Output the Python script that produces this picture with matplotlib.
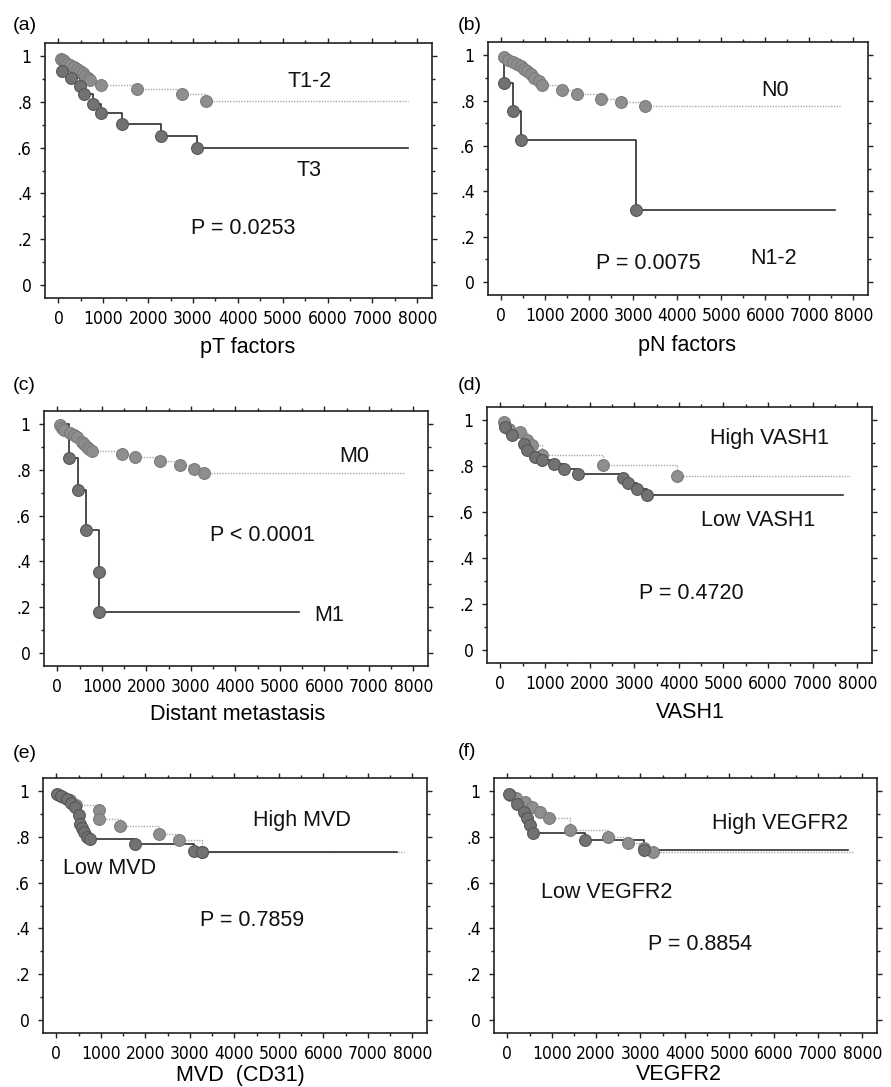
import numpy as np
import matplotlib
matplotlib.use('Agg')
import matplotlib.pyplot as plt
from matplotlib import font_manager
from matplotlib.font_manager import FontProperties
from matplotlib.ticker import MultipleLocator, FixedLocator

TXT = 'Liberation Sans'

# tick numbers in the reference use a narrow face; take one if the box has it
def narrow_font(size):
    fl = font_manager.fontManager.ttflist
    for f in fl:
        if f.name == 'Liberation Sans Narrow' and f.weight in (400, 'normal') and f.style == 'normal':
            return FontProperties(fname=f.fname, size=size)
    for fam in ['DejaVu Sans', 'Noto Sans', 'Roboto', 'Open Sans', 'Liberation Sans']:
        for f in fl:
            if f.name == fam and f.style == 'normal' and f.weight in (400, 'normal') \
                    and f.stretch in ('condensed', 'semi-condensed', 'extra-condensed', 'ultra-condensed'):
                return FontProperties(fname=f.fname, size=size)
    return FontProperties(family='Liberation Sans', size=size - 1)

# ---- data: (time, survival) at each marked event, and where the curve stops ----
# (a) pT factors
a_hi_t = [50, 100, 150, 200, 250, 350, 420, 480, 550, 600, 650, 700, 950, 1758, 2750, 3285]
a_hi_s = [.99, .985, .975, .968, .96, .952, .945, .935, .925, .915, .905, .895, .873, .859, .837, .805]
a_hi_end = 7790
a_lo_t = [82, 290, 476, 566, 775, 940, 1423, 2295, 3084]
a_lo_s = [.936, .905, .87, .834, .793, .75, .706, .652, .601]
a_lo_end = 7790

# (b) pN factors
b_hi_t = [68, 150, 261, 350, 446, 520, 597, 680, 748, 850, 937, 1390, 1730, 2258, 2712, 3256]
b_hi_s = [.99, .98, .97, .96, .953, .94, .93, .915, .90, .885, .867, .846, .827, .808, .793, .776]
b_hi_end = 7698
b_lo_t = [53, 261, 446, 3052]
b_lo_s = [.876, .754, .624, .316]
b_lo_end = 7585

# (c) distant metastasis
c_hi_t = [56, 100, 142, 292, 370, 442, 555, 610, 667, 720, 779, 1453, 1753, 2315, 2764, 3063, 3288]
c_hi_s = [.996, .985, .974, .96, .952, .945, .923, .912, .901, .89, .882, .872, .857, .84, .821, .806, .787]
c_hi_end = 7782
c_lo_t = [254, 455, 650, 943, 943]
c_lo_s = [.854, .712, .537, .355, .18]
c_lo_end = 5423

# (d) VASH1
d_hi_t = [74, 186, 447, 596, 708, 931, 2309, 3948]
d_hi_s = [.993, .964, .949, .913, .891, .85, .804, .757]
d_hi_end = 7843
d_lo_t = [112, 261, 521, 596, 782, 931, 1191, 1415, 1750, 2755, 2867, 3054, 3277]
d_lo_s = [.971, .935, .899, .87, .841, .826, .809, .79, .768, .747, .725, .703, .674]
d_lo_end = 7672

# (e) MVD (CD31)
e_hi_t = [52, 150, 315, 450, 951, 951, 1438, 2299, 2749, 3274]
e_hi_s = [.982, .975, .96, .939, .917, .88, .846, .814, .785, .734]
e_hi_end = 7805
e_lo_t = [15, 100, 240, 330, 427, 502, 539, 580, 614, 700, 764, 1775, 3085, 3274]
e_lo_s = [.987, .98, .968, .95, .931, .895, .858, .84, .822, .80, .792, .768, .738, .734]
e_lo_end = 7656

# (f) VEGFR2
f_hi_t = [67, 200, 404, 554, 742, 929, 1416, 2276, 2726, 3085, 3288]
f_hi_s = [.983, .97, .953, .931, .91, .881, .83, .80, .772, .75, .735]
f_hi_end = 7782
f_lo_t = [30, 218, 367, 442, 517, 569, 1753, 3085]
f_lo_s = [.99, .946, .91, .881, .852, .818, .786, .745]
f_lo_end = 7670

ytick_vals = [0, .2, .4, .6, .8, 1]
ytick_txt = ['0', '.2', '.4', '.6', '.8', '1']

# panel boxes in pixels (left, top, right, bottom) of the 891x1087 figure,
# then tag position and x-label position (pixels)
W, H = 891, 1087
panels = [
    ('(a)', (45, 43, 432, 298), (13, 25), (248, 347), a_hi_t, a_hi_s, a_hi_end, a_lo_t, a_lo_s, a_lo_end,
     'pT factors', [('T1-2', 5590, .89), ('T3', 5590, .50), ('P = 0.0253', 4130, .245)]),
    ('(b)', (488, 42, 868, 295), (458, 25), (687, 345), b_hi_t, b_hi_s, b_hi_end, b_lo_t, b_lo_s, b_lo_end,
     'pN factors', [('N0', 6225, .846), ('N1-2', 6190, .105), ('P = 0.0075', 3350, .083)]),
    ('(c)', (44, 411, 428, 666), (13, 386), (238, 714), c_hi_t, c_hi_s, c_hi_end, c_lo_t, c_lo_s, c_lo_end,
     'Distant metastasis', [('M0', 6670, .857), ('M1', 6100, .162), ('P < 0.0001', 4600, .515)]),
    ('(d)', (487, 407, 872, 663), (458, 385), (690, 712), d_hi_t, d_hi_s, d_hi_end, d_lo_t, d_lo_s, d_lo_end,
     'VASH1', [('High VASH1', 6030, .92), ('Low VASH1', 5770, .565), ('P = 0.4720', 4280, .246)]),
    ('(e)', (43, 778, 427, 1033), (13, 753), (240, 1075), e_hi_t, e_hi_s, e_hi_end, e_lo_t, e_lo_s, e_lo_end,
     'MVD  (CD31)', [('High MVD', 5520, .87), ('Low MVD', 1200, .661), ('P = 0.7859', 4400, .437)]),
    ('(f)', (494, 778, 877, 1033), (458, 752), (679, 1075), f_hi_t, f_hi_s, f_hi_end, f_lo_t, f_lo_s, f_lo_end,
     'VEGFR2', [('High VEGFR2', 6135, .859), ('Low VEGFR2', 2240, .556), ('P = 0.8854', 4340, .33)]),
]

tick_fp = narrow_font(12.5)

fig = plt.figure(figsize=(W / 100, H / 100), dpi=100)
fig.patch.set_facecolor('white')

for tag, box, tagpos, labpos, ht, hs, hend, lt, ls, lend, xlab, notes in panels:
    l, t, r, b = box
    ax = fig.add_axes([l / W, 1 - b / H, (r - l) / W, (b - t) / H])

    # light dotted curve + markers
    ax.step([0] + ht + [hend], [1] + hs + [hs[-1]], where='post',
            color='#a8a8a8', lw=1.0, ls=(0, (1, 1)), zorder=2)
    ax.plot(ht, hs, 'o', ms=8.5, mfc='#8e8e8e', mec='#7a7a7a', mew=0.8, zorder=4)
    # dark solid curve + markers
    ax.step([0] + lt + [lend], [1] + ls + [ls[-1]], where='post',
            color='#2e2e2e', lw=1.2, zorder=3)
    ax.plot(lt, ls, 'o', ms=8.5, mfc='#727272', mec='#555555', mew=0.8, zorder=5)

    ax.set_xlim(-300, 8330)
    ax.set_ylim(-0.057, 1.058)
    ax.xaxis.set_major_locator(MultipleLocator(1000))
    ax.xaxis.set_minor_locator(MultipleLocator(500))
    ax.yaxis.set_major_locator(FixedLocator(ytick_vals))
    ax.yaxis.set_minor_locator(MultipleLocator(0.1))
    ax.set_yticklabels(ytick_txt)
    ax.tick_params(which='both', direction='out', top=True, right=True, width=1.0, color='#222222')
    ax.tick_params(which='major', length=3.6)
    ax.tick_params(axis='x', which='major', pad=5)
    ax.tick_params(axis='y', which='major', pad=6)
    ax.tick_params(which='minor', length=2.2)
    for lb in ax.get_xticklabels() + ax.get_yticklabels():
        lb.set_fontproperties(tick_fp)
    for sp in ax.spines.values():
        sp.set_linewidth(1.2)
        sp.set_color('#222222')

    for txt, x, y in notes:
        ax.text(x, y, txt, fontsize=15.5, family=TXT, ha='center', va='center', color='#111111')

    fig.text(labpos[0] / W, 1 - labpos[1] / H, xlab, fontsize=15.5, family=TXT, ha='center', va='center')
    fig.text(tagpos[0] / W, 1 - tagpos[1] / H, tag, fontsize=14, family=TXT, ha='left', va='center')

fig.savefig('out.png', dpi=100, facecolor='white')
